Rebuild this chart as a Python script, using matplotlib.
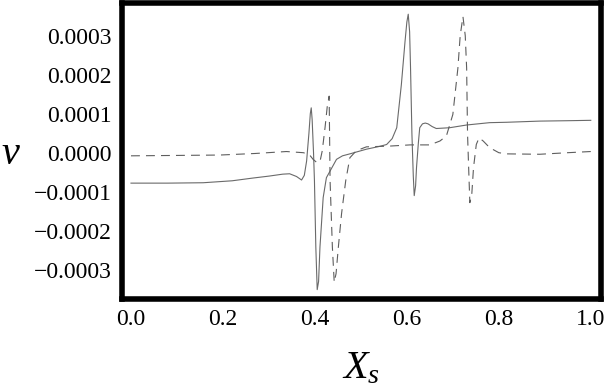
import matplotlib
matplotlib.use("Agg")
import matplotlib.pyplot as plt

plt.rcParams['font.family'] = ['Liberation Serif', 'DejaVu Serif']
plt.rcParams['mathtext.fontset'] = 'custom'
plt.rcParams['mathtext.rm'] = 'Liberation Serif'
plt.rcParams['mathtext.it'] = 'Liberation Serif:italic'

# valores (v en unidades de 1e-4)
x_solid = [0.0, 0.08, 0.157, 0.22, 0.265, 0.30, 0.33, 0.345, 0.360, 0.371,
           0.377, 0.382, 0.387, 0.390, 0.392, 0.394, 0.397, 0.399, 0.402,
           0.405, 0.408, 0.411, 0.418, 0.425, 0.433, 0.447, 0.460, 0.476,
           0.512, 0.540, 0.556, 0.568, 0.578, 0.588, 0.596, 0.600, 0.603,
           0.606, 0.608, 0.611, 0.614, 0.616, 0.619, 0.621, 0.625, 0.628,
           0.634, 0.640, 0.646, 0.655, 0.664, 0.693, 0.730, 0.780, 0.817,
           0.889, 0.95, 1.0]
v_solid = [-0.78, -0.78, -0.77, -0.72, -0.65, -0.60, -0.55, -0.54, -0.61, -0.70,
           -0.58, -0.21, 0.50, 1.00, 1.15, 0.85, 0.00, -0.72, -2.42,
           -3.51, -3.30, -2.42, -1.15, -0.64, -0.47, -0.17, -0.08, -0.03,
           0.09, 0.16, 0.21, 0.36, 0.64, 1.74, 2.85, 3.35, 3.55,
           3.10, 2.17, 0.48, -0.60, -1.10, -0.85, -0.38, 0.25, 0.64,
           0.74, 0.76, 0.74, 0.67, 0.62, 0.64, 0.71, 0.77, 0.78,
           0.81, 0.82, 0.83]

x_dash = [0.0, 0.10, 0.193, 0.27, 0.338, 0.375, 0.388, 0.396, 0.404, 0.411,
          0.416, 0.422, 0.427, 0.431, 0.433, 0.438, 0.442, 0.446, 0.451,
          0.458, 0.467, 0.476, 0.49, 0.512, 0.563, 0.607, 0.650, 0.672,
          0.686, 0.700, 0.711, 0.716, 0.722, 0.727, 0.730, 0.732, 0.735,
          0.737, 0.741, 0.745, 0.751, 0.757, 0.766, 0.780, 0.800, 0.817,
          0.889, 0.95, 1.0]
v_dash = [-0.08, -0.07, -0.06, -0.02, 0.03, 0.00, -0.05, -0.17, -0.25, -0.23,
          0.05, 0.64, 1.20, 1.45, -0.72, -2.42, -3.32, -3.10, -2.42,
          -1.56, -0.72, -0.13, 0.05, 0.15, 0.17, 0.20, 0.20, 0.30,
          0.43, 0.98, 2.17, 3.00, 3.49, 3.00, 2.17, 0.47, -0.60,
          -1.28, -1.10, -0.38, 0.21, 0.38, 0.30, 0.13, 0.00, -0.03,
          -0.04, 0.00, 0.03]

yticks = [-0.0003, -0.0002, -0.0001, 0.0, 0.0001, 0.0002, 0.0003]
xticks = [0.0, 0.2, 0.4, 0.6, 0.8, 1.0]

fig = plt.figure(figsize=(6.09, 3.91), dpi=100)
ax = fig.add_axes([0.2003, 0.2353, 0.786, 0.7583])

ax.plot(x_solid, [v * 1e-4 for v in v_solid], color='#6a6a6a', lw=0.8)
ax.plot(x_dash, [v * 1e-4 for v in v_dash], color='#5e5e5e', lw=0.8,
        dashes=[8, 5.5])

ax.set_xlim(-0.0196, 1.0215)
ax.set_ylim(-0.000375, 0.000385)
ax.set_xticks(xticks)
ax.set_xticklabels(['%.1f' % t for t in xticks])
ax.set_yticks(yticks)
ax.set_yticklabels([('%.4f' % t).replace('-', '\u2212') for t in yticks])
ax.tick_params(length=0, labelsize=17, colors='black')
ax.tick_params(axis='y', pad=7.5)
ax.tick_params(axis='x', pad=7.5)

for s in ax.spines.values():
    s.set_linewidth(4)
    s.set_color('black')

ax.set_ylabel('$v$', fontsize=29, rotation=0, ha='center', va='center')
ax.yaxis.set_label_coords(-0.232, 0.489)
ax.set_xlabel('$X_s$', fontsize=29, va='center')
ax.xaxis.set_label_coords(0.5, -0.235)

fig.savefig('out.png', dpi=100)
